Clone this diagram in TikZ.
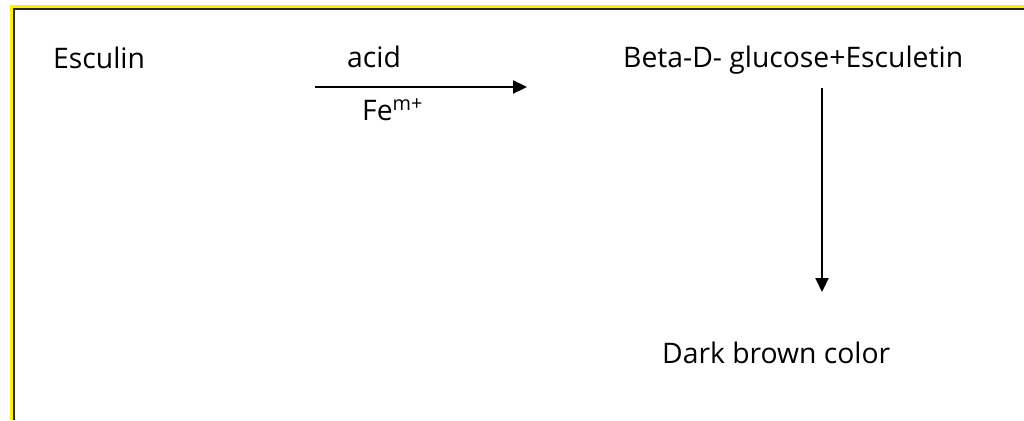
\documentclass[tikz,border=0pt]{standalone}
\usepackage{fontspec}
\setmainfont{Open Sans}
\usetikzlibrary{arrows.meta}
\begin{document}
\begin{tikzpicture}[x=1pt,y=-1pt,
  lbl/.style={inner sep=0pt, anchor=base west, font=\fontsize{28.3}{33}\selectfont},
  rx/.style={line width=2.2pt, -{Triangle[length=14pt,width=13pt]}}]
\useasboundingbox (0,0) rectangle (1024,420);
\fill[white] (0,0) rectangle (1024,420);
\draw[yellow, line width=3.5pt] (11.5,420) -- (11.5,6.5) -- (1024,6.5);
\draw[black!85, line width=2pt] (14.2,420) -- (14.2,9.2) -- (1024,9.2);
\node[lbl] (esc) at (53,68) {Esculin};
\node[lbl] (acid) at (347,67) {acid};
\node[lbl] (fe) at (362,120) {Fe\textsuperscript{m+}};
\node[lbl] (prod) at (623,67) {Beta-D- glucose+Esculetin};
\node[lbl] (dark) at (662,363) {Dark brown color};
\coordinate (h1) at (315,87);
\coordinate (h2) at (527,87);
\coordinate (v1) at (822,88);
\coordinate (v2) at (822,292);
\draw[rx] (h1) -- (h2);
\draw[rx] (v1) -- (v2);
\end{tikzpicture}
\end{document}
